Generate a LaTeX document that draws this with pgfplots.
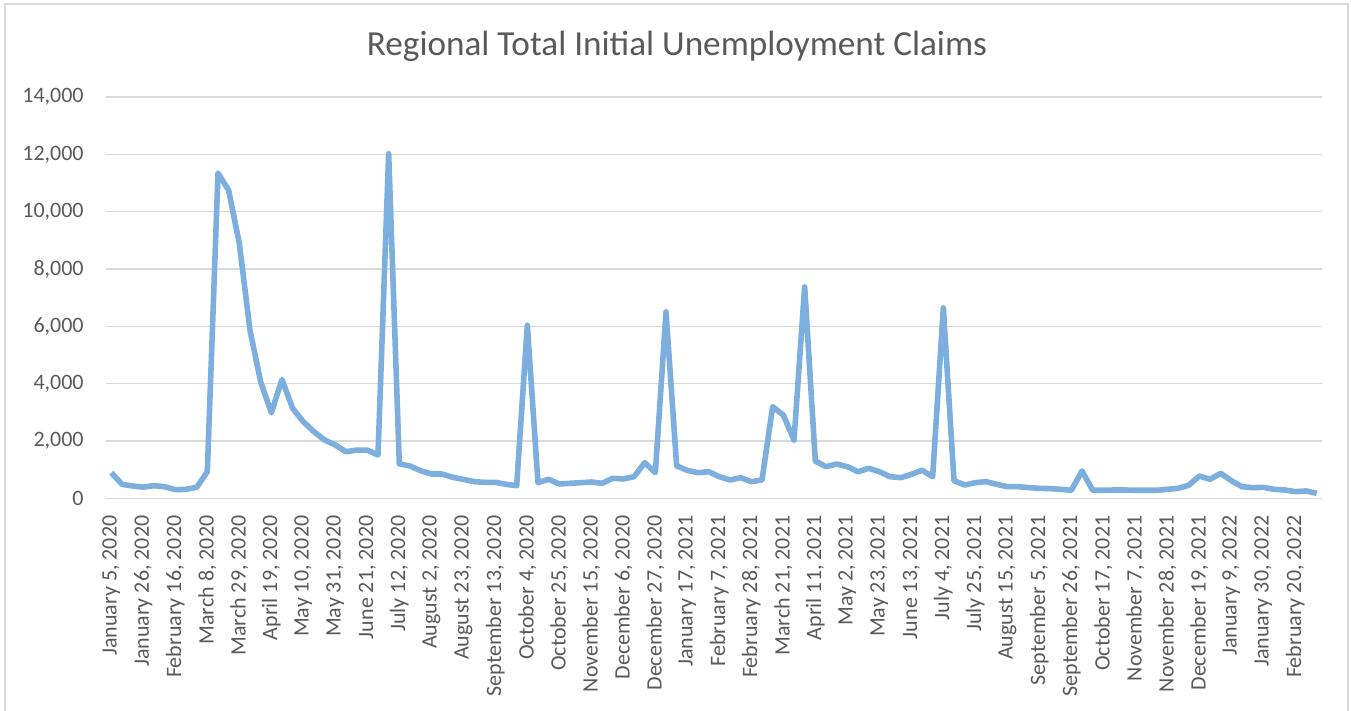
\documentclass[border=0pt]{standalone}
\usepackage{pgfplots}
\pgfplotsset{compat=1.18}
\usepackage{pgfplotstable}
\usepackage{fontspec}
\setmainfont{Carlito}
\definecolor{txtgray}{HTML}{595959}
\definecolor{gridgray}{HTML}{D9D9D9}
\definecolor{linecol}{RGB}{125,175,222}
\pgfplotstableread{
x y
0 893
1 487
2 430
3 390
4 440
5 405
6 300
7 313
8 383
9 927
10 11346
11 10742
12 8885
13 5865
14 4063
15 2983
16 4146
17 3136
18 2669
19 2321
20 2031
21 1857
22 1625
23 1683
24 1683
25 1509
26 12021
27 1200
28 1126
29 962
30 847
31 847
32 732
33 662
34 580
35 557
36 557
37 488
38 440
39 6038
40 545
41 662
42 499
43 522
44 545
45 568
46 522
47 697
48 674
49 755
50 1242
51 893
52 6503
53 1126
54 976
55 893
56 927
57 755
58 639
59 719
60 580
61 639
62 3194
63 2903
64 2031
65 7375
66 1300
67 1103
68 1195
69 1103
70 927
71 1045
72 927
73 755
74 719
75 836
76 976
77 755
78 6643
79 615
80 464
81 545
82 580
83 488
84 405
85 405
86 372
87 348
88 337
89 313
90 279
91 952
92 279
93 279
94 290
95 290
96 279
97 279
98 279
99 313
100 348
101 453
102 777
103 662
104 871
105 615
106 405
107 372
108 383
109 313
110 290
111 232
112 256
113 174
}\claims
\begin{document}
\begin{tikzpicture}
\path[use as bounding box] (-53pt,-106.35pt) rectangle (622.5pt,249.15pt);
\draw[gridgray, line width=0.6pt] (-50.5pt,-120pt) -- (-50.5pt,247.15pt) -- (621pt,247.15pt) -- (621pt,-120pt);
\begin{axis}[
  at={(0pt,0pt)}, anchor=south west,
  scale only axis,
  width=608pt, height=200.65pt,
  xmin=-0.5, xmax=113.5,
  ymin=0, ymax=14000,
  ytick={0,2000,...,14000},
  xtick={0,3,...,111},
  xticklabels={{January 5, 2020},{January 26, 2020},{February 16, 2020},{March 8, 2020},{March 29, 2020},{April 19, 2020},{May 10, 2020},{May 31, 2020},{June 21, 2020},{July 12, 2020},{August 2, 2020},{August 23, 2020},{September 13, 2020},{October 4, 2020},{October 25, 2020},{November 15, 2020},{December 6, 2020},{December 27, 2020},{January 17, 2021},{February 7, 2021},{February 28, 2021},{March 21, 2021},{April 11, 2021},{May 2, 2021},{May 23, 2021},{June 13, 2021},{July 4, 2021},{July 25, 2021},{August 15, 2021},{September 5, 2021},{September 26, 2021},{October 17, 2021},{November 7, 2021},{November 28, 2021},{December 19, 2021},{January 9, 2022},{January 30, 2022},{February 20, 2022}},
  scaled y ticks=false,
  /pgf/number format/.cd, 1000 sep={,}, assume math mode=true,
  /pgfplots/.cd,
  axis line style={draw=none},
  major tick length=0pt,
  ymajorgrids,
  grid style={gridgray, line width=0.7pt},
  tick label style={font=\fontsize{11}{12}\selectfont, text=txtgray},
  xticklabel style={rotate=90, anchor=east, inner sep=0pt},
  xticklabel shift=8.5pt,
  yticklabel style={anchor=east, inner sep=0pt},
  yticklabel shift=11pt,
  clip=false,
]
\addplot[linecol, line width=2.8pt, line join=round, no marks] table[x=x,y=y] {\claims};
\end{axis}
\node[text=txtgray, font=\fontsize{17.6}{20}\selectfont] at (285.5pt,226.15pt) {Regional Total Initial Unemployment Claims};
\end{tikzpicture}
\end{document}
